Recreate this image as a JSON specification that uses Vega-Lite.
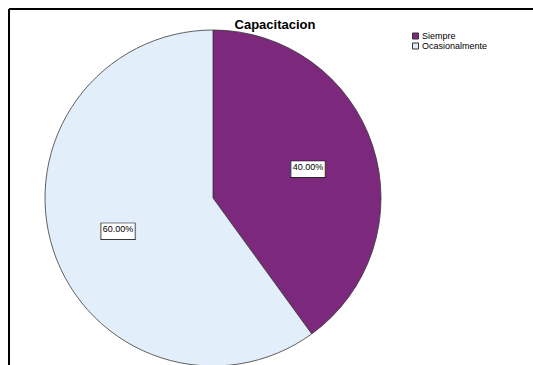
{
  "$schema": "https://vega.github.io/schema/vega-lite/v6.json",
  "autosize": {"type": "none"},
  "padding": {"left": 9, "top": 9, "right": 0, "bottom": 0},
  "width": 526,
  "height": 358,
  "background": "white",
  "config": {
    "view": {"stroke": null},
    "font": "Liberation Sans"
  },
  "title": {
    "text": "Capacitacion",
    "fontSize": 13,
    "font": "Liberation Sans",
    "fontWeight": "bold",
    "color": "black",
    "offset": -24,
    "dx": 3
  },
  "data": {
    "values": [
      {"respuesta": "Siempre", "proporcion": 0.4, "orden": 1},
      {"respuesta": "Ocasionalmente", "proporcion": 0.6, "orden": 2}
    ]
  },
  "layer": [
    {
      "mark": {"type": "rule", "color": "black", "strokeWidth": 2},
      "encoding": {"x": {"value": 0}}
    },
    {
      "mark": {"type": "rule", "color": "black", "strokeWidth": 2},
      "encoding": {"y": {"value": 0}}
    },
    {
      "mark": {"type": "arc", "radius": 168, "stroke": "#3a3a3a", "strokeWidth": 0.8, "xOffset": -59, "yOffset": 10},
      "encoding": {
        "theta": {"field": "proporcion", "type": "quantitative", "stack": true},
        "order": {"field": "orden", "type": "quantitative"},
        "color": {
          "field": "respuesta",
          "type": "nominal",
          "scale": {"domain": ["Siempre", "Ocasionalmente"], "range": ["#7C287C", "#E2EEFA"]},
          "legend": {
            "orient": "none",
            "legendX": 402,
            "legendY": 22.5,
            "title": null,
            "symbolType": "square",
            "symbolSize": 36,
            "symbolStrokeColor": "#333333",
            "symbolStrokeWidth": 1,
            "labelFontSize": 9,
            "labelFont": "Liberation Sans",
            "labelColor": "black",
            "labelOffset": 2,
            "rowPadding": -3,
            "padding": 0
          }
        }
      }
    },
    {
      "mark": {"type": "text", "radius": 100, "font": "DejaVu Sans", "fontSize": 45, "fill": "white", "stroke": "black", "strokeWidth": 0.7, "baseline": "middle", "xOffset": -59, "yOffset": 10},
      "encoding": {
        "theta": {"field": "proporcion", "type": "quantitative", "stack": true},
        "order": {"field": "orden", "type": "quantitative"},
        "text": {"value": "▬"}
      }
    },
    {
      "mark": {"type": "text", "radius": 100, "font": "Liberation Sans", "fontSize": 9, "color": "black", "baseline": "middle", "xOffset": -59, "yOffset": 10},
      "encoding": {
        "theta": {"field": "proporcion", "type": "quantitative", "stack": true},
        "order": {"field": "orden", "type": "quantitative"},
        "text": {"field": "proporcion", "type": "quantitative", "format": ".2%"}
      }
    }
  ]
}
